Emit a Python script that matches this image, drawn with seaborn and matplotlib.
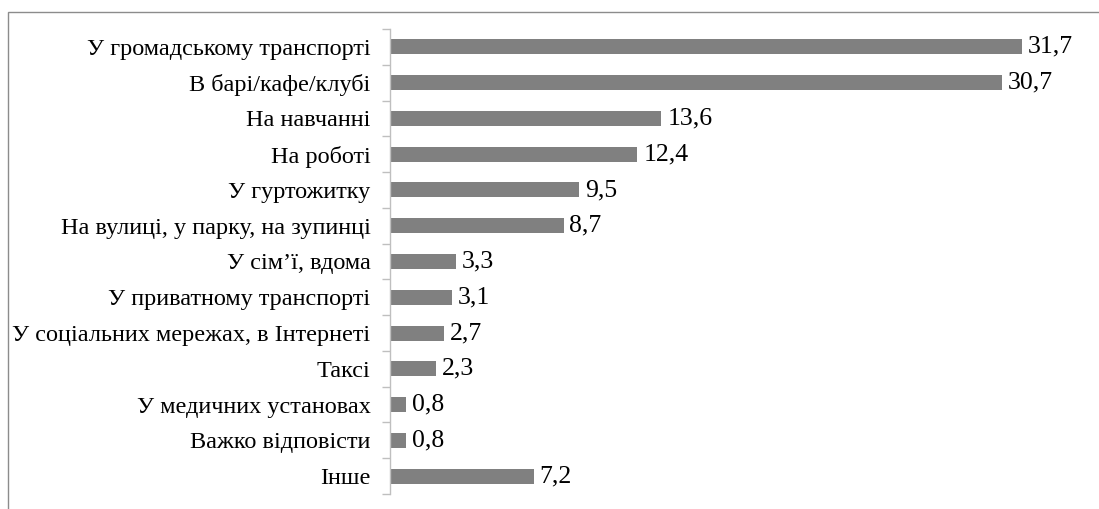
import matplotlib
matplotlib.use('Agg')
import matplotlib.pyplot as plt
import seaborn as sns
import pandas as pd
import numpy as np
from matplotlib.patches import Rectangle

sns.set_theme(style='white')
plt.rcParams['font.family'] = ['Liberation Serif', 'DejaVu Serif']

categories = ['У громадському транспорті', 'В барі/кафе/клубі', 'На навчанні',
              'На роботі', 'У гуртожитку', 'На вулиці, у парку, на зупинці',
              'У сім’ї, вдома', 'У приватному транспорті',
              'У соціальних мережах, в Інтернеті', 'Таксі',
              'У медичних установах', 'Важко відповісти', 'Інше']
values = [31.7, 30.7, 13.6, 12.4, 9.5, 8.7, 3.3, 3.1, 2.7, 2.3, 0.8, 0.8, 7.2]

df = pd.DataFrame({'place': categories, 'pct': values})

fig = plt.figure(figsize=(10.99, 5.09), dpi=100)
ax = fig.add_axes([390 / 1099, 1 - 494 / 509, 700 / 1099, 465 / 509])

sns.barplot(data=df, x='pct', y='place', color='#808080', width=0.42,
            saturation=1, linewidth=0, ax=ax, orient='h')

for i, v in enumerate(values):
    ax.text(v + 0.3, i, f'{v:.1f}'.replace('.', ','), va='center', ha='left',
            fontsize=18.5, color='black')

ax.set_xlim(0, 35.1)
ax.set_ylim(len(categories) - 0.5, -0.5)
ax.set_xlabel('')
ax.set_ylabel('')
ax.set_xticks([])
ax.tick_params(axis='y', which='major', length=0, labelsize=17.5, pad=14,
               labelcolor='black')
ax.set_yticks(np.arange(-0.5, len(categories) + 0.5, 1), minor=True)
ax.tick_params(axis='y', which='minor', left=True, length=6, width=1,
               color='#bfbfbf', direction='out')
for s in ['top', 'right', 'bottom']:
    ax.spines[s].set_visible(False)
ax.spines['left'].set_color('#bfbfbf')
ax.spines['left'].set_linewidth(1)

# outer chart frame
fig.patches.append(Rectangle((8 / 1099, -0.1), 1.2, 1 - 12 / 509 + 0.1,
                             transform=fig.transFigure, fill=False,
                             edgecolor='#8c8c8c', linewidth=1))

fig.savefig('out.png', dpi=100)
